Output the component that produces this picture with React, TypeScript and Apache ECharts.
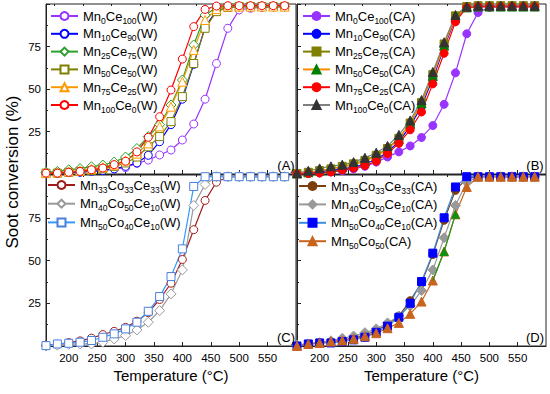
import React, { useEffect, useRef } from 'react';
import * as echarts from 'echarts';

const TEMPS = [160, 180, 200, 220, 240, 260, 280, 300, 320, 340, 360, 380, 400, 420, 440, 460, 480, 500, 520, 540, 560, 580];
const X_LABELS = [200, 250, 300, 350, 400, 450, 500, 550];
const X_MINOR = [175, 225, 275, 325, 375, 425, 475, 525, 575];

// Panel A (W)
const A_MN0CE100 = [0.5, 0.5, 1, 1.2, 1.8, 2.3, 3, 3.8, 6.3, 8.2, 11.2, 14.1, 20, 29.4, 44, 65, 85.7, 96.5, 97.5, 98, 98.5, 98.5];
const A_MN10CE90 = [0.5, 0.5, 1, 1, 1.5, 2, 3, 4.5, 6.5, 11, 19, 29, 44, 64.5, 86.5, 96, 98, 98.5, 98.5, 98.5, 98.5, 98.5];
const A_MN25CE75 = [1, 1.5, 2.5, 3.2, 4.3, 5.3, 7, 10, 15, 22, 29, 40.6, 55.3, 75.9, 93.5, 98, 98.5, 98.5, 98.5, 98.5, 98.5, 98.5];
const A_MN50CE50 = [0.5, 0.5, 1, 1.5, 2, 3, 4.5, 6.5, 10, 16, 22, 30.8, 45.5, 65, 85.7, 95.5, 98, 98.5, 98.5, 98.5, 98.5, 98.5];
const A_MN75CE25 = [0.5, 1, 1.5, 2, 3, 4, 5.5, 8, 12, 18, 28, 39.6, 54.3, 73, 90.6, 97, 98.5, 98.5, 98.5, 98.5, 98.5, 98.5];
const A_MN100CE0 = [0.5, 0.5, 1, 1.5, 2.5, 3.5, 5.5, 7.5, 13, 21.6, 33.7, 49.4, 67.6, 86.7, 96.8, 98.8, 99, 99, 99, 99, 99, 99];

// Panel B (CA)
const B_MN0CE100 = [0, 0.3, 0.6, 1.2, 2, 3, 4.5, 7, 10, 13, 16.5, 21.5, 28.5, 41, 59.5, 82.5, 95, 98, 98.5, 98.5, 98.5, 98.5];
const B_MN10CE90 = [0.2, 0.5, 1.5, 2, 3, 4, 6, 8.5, 13, 19, 28, 40, 56, 74.5, 91.5, 98, 98.5, 98.5, 98.5, 98.5, 98.5, 98.5];
const B_MN25CE75 = [0.3, 1, 2, 3, 4.5, 6, 8, 11, 15, 21, 30, 42, 58.5, 76.5, 93, 98.5, 99, 99, 99, 99, 99, 99];
const B_MN50CE50 = [0.3, 1, 2, 3, 4, 5.5, 7.5, 10.5, 14.5, 20.5, 29.5, 41.5, 57.5, 75.5, 92, 98, 98.5, 98.5, 98.5, 98.5, 98.5, 98.5];
const B_MN75CE25 = [0, 0.3, 0.6, 1.2, 2.4, 3.5, 5, 7.5, 12, 18, 26, 36.5, 53, 71, 89.5, 98, 98.5, 98.5, 98.5, 98.5, 98.5, 98.5];
const B_MN100CE0 = [0.5, 1.9, 3.3, 4.5, 5.5, 7, 9.5, 12.5, 16.5, 23, 31.5, 43.5, 60, 77.5, 93.5, 98.5, 99, 99, 99, 99, 99, 99];

// Panel C (W)
const C_MN33CO33CE33 = [0.5, 1, 2, 3, 4.6, 6.7, 8.6, 10.9, 14.5, 19.5, 27.2, 36.7, 50.6, 68, 85.1, 95.8, 99, 99, 99, 99, 99, 99];
const C_MN40CO50CE10 = [0, 0.5, 1, 1.2, 1.2, 2.2, 4.1, 6.1, 9.4, 13.9, 20.7, 30.5, 44.5, 82.2, 94.5, 99, 99, 99, 99, 99, 99, 99];
const C_MN50CO40CE10 = [0.2, 1.2, 1.6, 2.2, 3.2, 5.1, 7.1, 10, 13.9, 20.3, 28.9, 40.6, 56.8, 93.3, 99, 99, 99, 99, 99, 99, 99, 99];

// Panel D (CA)
const D_MN33CO33CE33 = [0, 1, 1.8, 2.5, 3.5, 4.8, 6.5, 9, 12.5, 17.5, 26.5, 37, 53.5, 73.5, 91, 98, 99, 99, 99, 99, 99, 99];
const D_MN40CO50CE10 = [0.5, 1.2, 2, 3, 4.5, 5.8, 7.8, 10, 13.5, 17.5, 23.5, 32.4, 44.5, 63.3, 82.2, 95.8, 99, 99, 99, 99, 99, 99];
const D_MN50CO40CE10 = [0, 1.2, 1.8, 1.8, 2.6, 3.6, 5.1, 8, 11.6, 16.8, 25, 37.7, 54.3, 75, 93, 99, 99, 99, 99, 99, 99, 99];
const D_MN50CO50 = [0, 1.2, 1.8, 2.6, 3.2, 4.2, 5.7, 7.5, 10.4, 13.5, 18.8, 26, 38.3, 55.3, 77, 93, 99, 99, 99, 99, 99, 99];
const D_GREEN_TEMPS = [400, 420, 440];

const FONT = 'Liberation Sans, Arial, sans-serif';
const AXIS_COLOR = '#222';

type Spec = {
  name: string;
  vals: number[];
  grid: number;
  symbol: string;
  line: string;
  fill: string;
  border: string;
  size?: number;
};

function mkSeries(s: Spec) {
  return {
    type: 'line',
    name: s.name,
    xAxisIndex: s.grid,
    yAxisIndex: s.grid,
    data: TEMPS.map((t, i) => [t, s.vals[i]]),
    symbol: s.symbol,
    symbolSize: s.size ?? 8,
    showAllSymbol: true,
    lineStyle: { color: s.line, width: 1.2 },
    itemStyle: { color: s.fill, borderColor: s.border, borderWidth: 1 },
    emphasis: { disabled: true },
    z: 3,
  };
}

const SPECS: Spec[] = [
  { name: 'Mn0Ce100(W)', vals: A_MN0CE100, grid: 0, symbol: 'circle', line: '#9933ff', fill: '#fff', border: '#9933ff' },
  { name: 'Mn10Ce90(W)', vals: A_MN10CE90, grid: 0, symbol: 'circle', line: '#0000ff', fill: '#fff', border: '#0000ff' },
  { name: 'Mn25Ce75(W)', vals: A_MN25CE75, grid: 0, symbol: 'diamond', line: '#2ca02c', fill: '#fff', border: '#2ca02c', size: 10 },
  { name: 'Mn50Ce50(W)', vals: A_MN50CE50, grid: 0, symbol: 'rect', line: '#808000', fill: '#fff', border: '#808000' },
  { name: 'Mn75Ce25(W)', vals: A_MN75CE25, grid: 0, symbol: 'triangle', line: '#ff9900', fill: '#fff', border: '#ff9900', size: 9 },
  { name: 'Mn100Ce0(W)', vals: A_MN100CE0, grid: 0, symbol: 'circle', line: '#ff0000', fill: '#fff', border: '#ff0000' },

  { name: 'Mn0Ce100(CA)', vals: B_MN0CE100, grid: 1, symbol: 'circle', line: '#9933ff', fill: '#9933ff', border: '#9933ff' },
  { name: 'Mn10Ce90(CA)', vals: B_MN10CE90, grid: 1, symbol: 'circle', line: '#0000ff', fill: '#0000ff', border: '#0000ff' },
  { name: 'Mn25Ce75(CA)', vals: B_MN25CE75, grid: 1, symbol: 'rect', line: '#808000', fill: '#808000', border: '#808000' },
  { name: 'Mn50Ce50(CA)', vals: B_MN50CE50, grid: 1, symbol: 'triangle', line: '#ff8c00', fill: '#008000', border: '#008000', size: 9 },
  { name: 'Mn75Ce25(CA)', vals: B_MN75CE25, grid: 1, symbol: 'circle', line: '#ff0000', fill: '#ff0000', border: '#ff0000' },
  { name: 'Mn100Ce0(CA)', vals: B_MN100CE0, grid: 1, symbol: 'triangle', line: '#808080', fill: '#333333', border: '#333333', size: 9 },

  { name: 'Mn33Co33Ce33(W)', vals: C_MN33CO33CE33, grid: 2, symbol: 'circle', line: '#a01c1c', fill: '#fff', border: '#a01c1c' },
  { name: 'Mn40Co50Ce10(W)', vals: C_MN40CO50CE10, grid: 2, symbol: 'diamond', line: '#999999', fill: '#fff', border: '#999999', size: 10 },
  { name: 'Mn50Co40Ce10(W)', vals: C_MN50CO40CE10, grid: 2, symbol: 'rect', line: '#3399ff', fill: '#fff', border: '#4a7fe0' },

  { name: 'Mn33Co33Ce33(CA)', vals: D_MN33CO33CE33, grid: 3, symbol: 'circle', line: '#7b3f10', fill: '#7b3f10', border: '#7b3f10' },
  { name: 'Mn40Co50Ce10(CA)', vals: D_MN40CO50CE10, grid: 3, symbol: 'diamond', line: '#999999', fill: '#999999', border: '#999999', size: 10 },
  { name: 'Mn50Co40Ce10(CA)', vals: D_MN50CO40CE10, grid: 3, symbol: 'rect', line: '#3d8ee0', fill: '#0000ff', border: '#0000ff' },
  { name: 'Mn50Co50(CA)', vals: D_MN50CO50, grid: 3, symbol: 'triangle', line: '#c8641e', fill: '#c8641e', border: '#c8641e', size: 9 },
];

function legendFormatter(name: string) {
  return '{n|' + name.replace(/(\d+)/g, '}{s|$1}{n|') + '}';
}

const RICH = {
  n: { fontSize: 13, fontFamily: FONT, color: '#000', height: 14, lineHeight: 14, verticalAlign: 'bottom' },
  s: { fontSize: 8.5, fontFamily: FONT, color: '#000', height: 5, lineHeight: 5, verticalAlign: 'bottom' },
};

function mkLegend(names: string[], left: number, top: number, gap: number) {
  return {
    orient: 'vertical',
    left,
    top,
    itemWidth: 27,
    itemHeight: 10,
    itemGap: gap,
    selectedMode: false,
    data: names,
    formatter: legendFormatter,
    textStyle: { rich: RICH, fontFamily: FONT, fontSize: 13, color: '#000' },
    padding: 0,
  };
}

const GRIDS = [
  { left: 46, top: 4, width: 250, height: 170 },
  { left: 297, top: 4, width: 249, height: 170 },
  { left: 46, top: 175, width: 250, height: 171 },
  { left: 297, top: 175, width: 249, height: 171 },
];

function mkXAxes() {
  const axes: any[] = [];
  for (let g = 0; g < 4; g++) {
    const bottom = g >= 2;
    axes.push({
      type: 'value',
      gridIndex: g,
      min: 160,
      max: 600,
      axisLine: { show: true, onZero: false, lineStyle: { color: AXIS_COLOR, width: 1 } },
      axisTick: { show: true, inside: true, length: 4, customValues: X_LABELS, lineStyle: { color: AXIS_COLOR } },
      axisLabel: { show: bottom, customValues: X_LABELS, fontSize: 11.5, fontFamily: FONT, color: '#000', margin: 6 },
      splitLine: { show: false },
      name: bottom ? 'Temperature (°C)' : '',
      nameLocation: 'middle',
      nameGap: 22,
      nameTextStyle: { fontSize: 15, fontFamily: FONT, color: '#000' },
    });
  }
  for (let g = 0; g < 4; g++) {
    axes.push({
      type: 'value',
      gridIndex: g,
      min: 160,
      max: 600,
      axisLine: { show: false, onZero: false },
      axisTick: { show: true, inside: true, length: 2, customValues: X_MINOR, lineStyle: { color: AXIS_COLOR } },
      axisLabel: { show: false },
      splitLine: { show: false },
    });
  }
  return axes;
}

function mkYAxes() {
  const axes: any[] = [];
  for (let g = 0; g < 4; g++) {
    const left = g % 2 === 0;
    axes.push({
      type: 'value',
      gridIndex: g,
      min: 0,
      max: 100,
      interval: 25,
      axisLine: { show: true, onZero: false, lineStyle: { color: AXIS_COLOR, width: 1 } },
      axisTick: { show: true, inside: true, length: 4, lineStyle: { color: AXIS_COLOR } },
      minorTick: { show: true, splitNumber: 2, length: 2, lineStyle: { color: AXIS_COLOR } },
      axisLabel: {
        show: left,
        fontSize: 11.5,
        fontFamily: FONT,
        color: '#000',
        margin: 5,
        formatter: (v: number) => (v === 0 || v === 100 ? '' : String(v)),
      },
      splitLine: { show: false },
    });
  }
  return axes;
}

function buildOption() {
  const series: any[] = SPECS.map(mkSeries);
  // green-coloured segment of Mn50Co50(CA) as drawn in the original
  series.push({
    type: 'line',
    name: 'overlayD',
    xAxisIndex: 3,
    yAxisIndex: 3,
    data: D_GREEN_TEMPS.map((t, i) => {
      const v = D_MN50CO50[TEMPS.indexOf(t)];
      return i === 0 ? { value: [t, v], symbol: 'none' } : { value: [t, v] };
    }),
    symbol: 'triangle',
    symbolSize: 9,
    lineStyle: { color: '#1a9a1a', width: 1.2 },
    itemStyle: { color: '#109010' },
    emphasis: { disabled: true },
    z: 4,
  });

  const names = (g: number) => SPECS.filter((s) => s.grid === g).map((s) => s.name);

  const panelLabel = (text: string, x: number, y: number) => ({
    type: 'text',
    x,
    y,
    style: { text, fontSize: 13, fontFamily: FONT, fill: '#000', align: 'center', verticalAlign: 'middle' },
    z: 10,
  });

  return {
    animation: false,
    backgroundColor: '#fff',
    grid: GRIDS.map((g) => ({ ...g, show: true, borderColor: AXIS_COLOR, borderWidth: 1, backgroundColor: 'transparent' })),
    xAxis: mkXAxes(),
    yAxis: mkYAxes(),
    legend: [
      mkLegend(names(0), 50, 9, 1.8),
      mkLegend(names(1), 302, 9, 1.8),
      mkLegend(names(2), 47, 178, 2.7),
      mkLegend(names(3), 298, 179, 2.4),
    ],
    series,
    graphic: [
      panelLabel('(A)', 286, 165),
      panelLabel('(B)', 535, 165),
      panelLabel('(C)', 286, 337),
      panelLabel('(D)', 535, 337),
      {
        type: 'text',
        x: 12,
        y: 172,
        rotation: Math.PI / 2,
        style: { text: 'Soot conversion (%)', fontSize: 17, fontFamily: FONT, fill: '#000', align: 'center', verticalAlign: 'middle' },
      },
    ],
  };
}

export default function App() {
  const ref = useRef<HTMLDivElement>(null);
  useEffect(() => {
    const chart = echarts.init(ref.current!, null, { renderer: 'svg' });
    chart.setOption(buildOption() as any);
    return () => chart.dispose();
  }, []);
  return (
    <div
      ref={ref}
      style={{ position: 'fixed', left: 0, top: 0, width: 550, height: 394, background: '#fff' }}
    />
  );
}
